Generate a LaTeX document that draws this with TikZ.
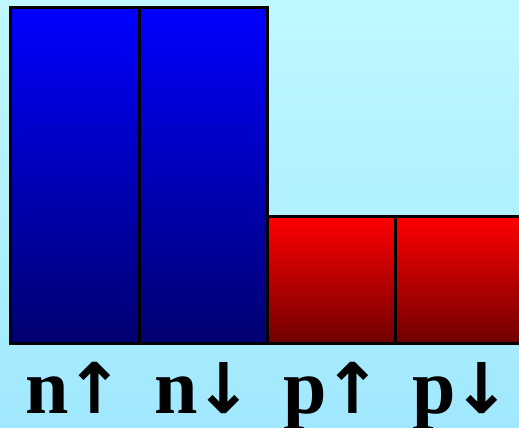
\documentclass[tikz,border=0pt]{standalone}
\usepackage{fontspec}
\setmainfont{Liberation Serif}
\newfontfamily\arrowfont{DejaVu Sans}
\definecolor{skytop}{RGB}{192,248,255}
\definecolor{skybot}{RGB}{160,232,255}
\definecolor{bluebot}{RGB}{0,0,112}
\definecolor{redbot}{RGB}{112,0,0}
\newcommand{\uparr}{{\fontsize{70}{70}\arrowfont\bfseries\kern-3pt↑}}
\newcommand{\downarr}{{\fontsize{70}{70}\arrowfont\bfseries\kern-3pt↓}}
\tikzset{
	bar/.style={draw=black, line width=3pt},
	lab/.style={font=\fontsize{78}{78}\selectfont\bfseries, anchor=base, inner sep=0pt}
}
\begin{document}
\begin{tikzpicture}[x=1pt, y=-1pt]
	\clip (0,0) rectangle (519,428);
	\shade[top color=skytop, bottom color=skybot] (0,0) rectangle (519,428);
	
	\shade[top color=blue, bottom color=bluebot] (10,8) rectangle (267,343);
	\shade[top color=red, bottom color=redbot] (267,216) rectangle (530,343);
	
	\draw[bar] (10,8) rectangle (139,343);
	\draw[bar] (139,8) rectangle (267,343);
	\draw[bar] (267,216) rectangle (395,343);
	\draw[bar] (395,216) rectangle (530,343);
	
	\node[lab] (nup) at (75,413){n\uparr};
	\node[lab] (ndown) at (204,413){n\downarr};
	\node[lab] (pup) at (333,413){p\uparr};
	\node[lab] (pdown) at (462,413){p\downarr};
\end{tikzpicture}
\end{document}
